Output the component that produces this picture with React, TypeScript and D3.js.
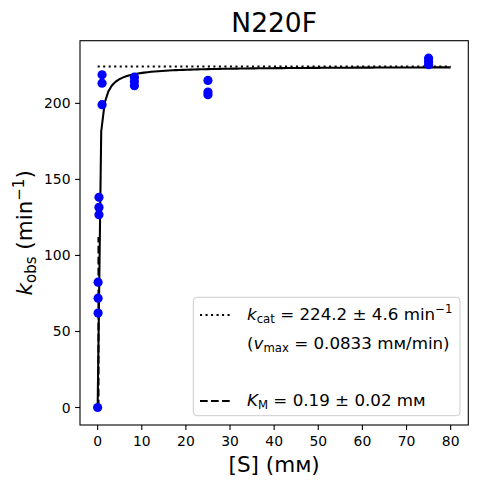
import * as d3 from "d3";

// measured substrate concentrations (mM) and observed rates (min^-1)
const substrate = [0, 0.1, 0.1, 0.1, 0.3, 0.3, 0.3, 1, 1, 1, 8.33, 8.33, 8.33, 25, 25, 25, 75, 75, 75];
const kobs = [0, 62.1, 71.9, 82.4, 126.8, 131.6, 138.2, 199.1, 213.3, 218.8, 211.6, 214.4, 217.2, 205.7, 207.4, 215.1, 225.4, 227.5, 229.7];

// fit parameters
const kcat = 224.2;
const KM = 0.19;
const fitRange = [0, 80];

const xTicks = [0, 10, 20, 30, 40, 50, 60, 70, 80];
const yTicks = [0, 50, 100, 150, 200];

const W = 477;
const H = 484;
const FONT = "DejaVu Sans";

export default function App() {
  const left = 80;
  const right = 468.3;
  const top = 40.7;
  const bottom = 425;

  const x = d3.scaleLinear().domain([-4, 84]).range([left, right]);
  const y = d3.scaleLinear().domain([-11.5, 241.2]).range([bottom, top]);

  const curvePts = d3.range(100).map((i) => {
    const s = fitRange[0] + ((fitRange[1] - fitRange[0]) * i) / 99;
    return [s, (kcat * s) / (KM + s)] as [number, number];
  });
  const line = d3
    .line<[number, number]>()
    .x((d) => x(d[0]))
    .y((d) => y(d[1]));

  const lg = { x0: 193.3, y0: 297.3, x1: 460, y1: 415.7 };

  return (
    <svg
      width={W}
      height={H}
      style={{ position: "absolute", left: 0, top: 0 }}
      fontFamily={FONT}
    >
      <rect width={W} height={H} fill="#fff" />

      {/* title */}
      <text x={(left + right) / 2} y={32} textAnchor="middle" fontSize={26.5}>
        N220F
      </text>

      <defs>
        <clipPath id="plot">
          <rect x={left} y={top} width={right - left} height={bottom - top} />
        </clipPath>
      </defs>

      <g clipPath="url(#plot)">
        {/* kcat dotted */}
        <line
          x1={x(fitRange[0])}
          x2={x(fitRange[1])}
          y1={y(kcat)}
          y2={y(kcat)}
          stroke="#000"
          strokeWidth={2.08}
          strokeDasharray="2.08 3.43"
        />
        {/* KM dashed */}
        <line
          x1={x(KM)}
          x2={x(KM)}
          y1={y(0)}
          y2={y(kcat / 2)}
          stroke="#000"
          strokeWidth={2.08}
          strokeDasharray="7.7 3.3"
        />
        {/* fit */}
        <path d={line(curvePts) ?? ""} fill="none" stroke="#000" strokeWidth={2.08} />
        {substrate.map((s, i) => (
          <circle key={i} cx={x(s)} cy={y(kobs[i])} r={4.6} fill="#0000ff" />
        ))}
      </g>

      {/* axes frame */}
      <rect
        x={left}
        y={top}
        width={right - left}
        height={bottom - top}
        fill="none"
        stroke="#000"
        strokeWidth={1.1}
      />

      {xTicks.map((t) => (
        <g key={t}>
          <line x1={x(t)} x2={x(t)} y1={bottom} y2={bottom + 4.9} stroke="#000" strokeWidth={1.1} />
          <text x={x(t)} y={bottom + 20.5} textAnchor="middle" fontSize={13.9}>
            {t}
          </text>
        </g>
      ))}
      {yTicks.map((t) => (
        <g key={t}>
          <line x1={left - 4.9} x2={left} y1={y(t)} y2={y(t)} stroke="#000" strokeWidth={1.1} />
          <text x={left - 9.5} y={y(t) + 5} textAnchor="end" fontSize={13.9}>
            {t}
          </text>
        </g>
      ))}

      {/* x label */}
      <text x={(left + right) / 2} y={472} textAnchor="middle" fontSize={21.5}>
        [S] (mм)
      </text>

      {/* y label */}
      <text
        transform={`translate(32,${(top + bottom) / 2}) rotate(-90)`}
        textAnchor="middle"
        fontSize={21.5}
      >
        <tspan fontStyle="italic">k</tspan>
        <tspan fontSize={15} dy={4}>obs</tspan>
        <tspan dy={-4}> (min</tspan>
        <tspan fontSize={15} dy={-8}>−1</tspan>
        <tspan dy={8}>)</tspan>
      </text>

      {/* legend */}
      <rect
        x={lg.x0}
        y={lg.y0}
        width={lg.x1 - lg.x0}
        height={lg.y1 - lg.y0}
        rx={3.5}
        fill="#fff"
        fillOpacity={0.8}
        stroke="#cccccc"
        strokeWidth={1}
      />
      <line x1={200} x2={233} y1={315} y2={315} stroke="#000" strokeWidth={2.08} strokeDasharray="2.08 3.43" />
      <line x1={200} x2={233} y1={401} y2={401} stroke="#000" strokeWidth={2.08} strokeDasharray="7.7 3.3" />
      <g fontSize={16.7}>
        <text x={247} y={320}>
          <tspan fontStyle="italic">k</tspan>
          <tspan fontSize={11.7} dy={3}>cat</tspan>
          <tspan dy={-3}> = 224.2 ± 4.6 min</tspan>
          <tspan fontSize={11.7} dy={-7}>−1</tspan>
        </text>
        <text x={247} y={349}>
          <tspan>(</tspan>
          <tspan fontStyle="italic">v</tspan>
          <tspan fontSize={11.7} dy={3}>max</tspan>
          <tspan dy={-3}> = 0.0833 mм/min)</tspan>
        </text>
        <text x={247} y={406}>
          <tspan fontStyle="italic">K</tspan>
          <tspan fontSize={11.7} dy={3}>M</tspan>
          <tspan dy={-3}> = 0.19 ± 0.02 mм</tspan>
        </text>
      </g>
    </svg>
  );
}
